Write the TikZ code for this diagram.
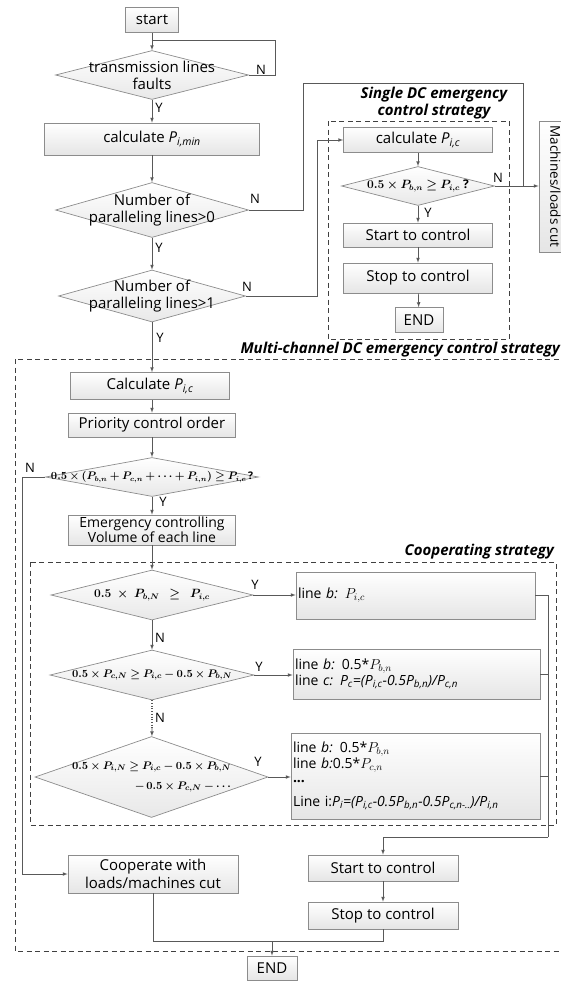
\documentclass[tikz,border=0pt]{standalone}
\usepackage[no-math]{fontspec}
\setmainfont{Open Sans}
\usepackage{bm}
\usetikzlibrary{shapes.geometric}

\newcommand{\Psub}[2]{\textit{#1}\textsubscript{\textit{#2}}}

\begin{document}
\begin{tikzpicture}[>=latex, x=1pt, y=-1pt,
    lnk/.style={draw=black!65, line width=0.7pt},
    frame/.style={draw=black!75, line width=0.7pt, dash pattern=on 5pt off 3.5pt},
    box/.style={draw=black!45, line width=0.7pt, top color=white, bottom color=black!10,
        inner sep=1pt, align=center, font=\fontsize{15}{18}\selectfont},
    lbox/.style={box, align=left, inner sep=1.5pt, font=\fontsize{14}{16}\selectfont},
    dec/.style={diamond, draw=black!45, line width=0.7pt, top color=white, bottom color=black!9, inner sep=0pt},
    dtxt/.style={align=center, font=\fontsize{15}{17}\selectfont},
    yn/.style={font=\fontsize{13}{15}\selectfont, inner sep=0pt},
    ttl/.style={font=\fontsize{15}{17}\selectfont\bfseries\itshape, align=center, inner sep=0pt}]

    \useasboundingbox (0,0) rectangle (561,982);
    \clip (0,0) rectangle (561,982);

    % main column
    \node[box, minimum width=53, minimum height=25] (start) at (152,20) {start};
    \node[dec, minimum width=193, minimum height=49,
        label={[dtxt]center:{transmission lines\\faults}}] (fault) at (152,75) {};
    \node[box, minimum width=215, minimum height=32] (calcmin) at (152,139) {calculate \Psub{P}{i,min}};
    \node[dec, minimum width=193, minimum height=55,
        label={[dtxt]center:{Number of\\paralleling lines>0}}] (par0) at (152,210) {};
    \node[dec, minimum width=187, minimum height=52,
        label={[dtxt]center:{Number of\\paralleling lines>1}}] (par1) at (152,296) {};

    \coordinate (loop) at (152,40);
    \draw[lnk, ->] (start) -- (fault);
    \draw[lnk] (fault.east) -- (275,75) |- (loop);
    \draw[lnk, ->] (fault) -- (calcmin);
    \draw[lnk, ->] (calcmin) -- (par0);
    \draw[lnk, ->] (par0) -- (par1);

    \node[yn] (nfault) at (261,70) {N};
    \node[yn] (yfault) at (159,108) {Y};
    \node[yn] (npar0) at (255,199) {N};
    \node[yn] (ypar0) at (159,248) {Y};
    \node[yn] (npar1) at (247,287) {N};
    \node[yn] (ypar1) at (160,338) {Y};

    % single DC strategy
    \draw[frame] (328,121) rectangle (509,339);
    \node[ttl] (stitle) at (434,103) {Single DC emergency\\control strategy};
    \node[box, minimum width=149, minimum height=25] (scalc) at (418,140) {calculate \Psub{P}{i,c}};
    \node[dec, minimum width=153, minimum height=39,
        label={[font=\fontsize{12}{14}\selectfont]center:{$\bm{0.5\times P_{b,n}\geq P_{i,c}}$ \textbf{?}}}] (sdec) at (418,186) {};
    \node[box, minimum width=149, minimum height=24] (sstart) at (418,235) {Start to control};
    \node[box, minimum width=149, minimum height=30] (sstop) at (418,278) {Stop to control};
    \node[box, minimum width=48, minimum height=25] (send) at (419,320) {END};
    \node[box, rotate=-90, minimum width=131, minimum height=33, font=\fontsize{13.5}{16}\selectfont] (cut) at (555.5,186.5) {Machines/loads cut};

    \coordinate (joint) at (523,186);
    \draw[lnk, ->] (scalc) -- (sdec);
    \draw[lnk, ->] (sdec) -- (sstart);
    \draw[lnk, ->] (sstart) -- (sstop);
    \draw[lnk, ->] (sstop) -- (send);
    \draw[lnk, ->] (sdec.east) -- (sdec.east -| cut.south);
    \draw[lnk] (par0.east) -- (303,210) |- (523,83) -- (joint);
    \draw[lnk, ->] (par1.east) -- (317,296) |- (scalc.west);
    \node[yn] (nsdec) at (498,178) {N};
    \node[yn] (ysdec) at (428,213) {Y};

    % multi-channel strategy
    \draw[frame] (15,359) rectangle (566,951);
    \node[ttl, anchor=east] (mtitle) at (560,350) {Multi-channel DC emergency control strategy};
    \node[box, minimum width=159, minimum height=27] (mcalc) at (150,386) {Calculate \Psub{P}{i,c}};
    \node[box, minimum width=167, minimum height=24] (prio) at (152,425) {Priority control order};
    \node[dec, minimum width=213, minimum height=39,
        label={[font=\fontsize{10.5}{12}\selectfont]center:{$\bm{0.5\times(P_{b,n}+P_{c,n}+\cdots+P_{i,n})\geq P_{i,c}}$\,\textbf{?}}}] (mdec) at (152,477) {};
    \node[box, minimum width=167, minimum height=30, font=\fontsize{14}{15}\selectfont] (volume) at (152,530) {Emergency controlling\\Volume of each line};

    \draw[lnk, ->] (par1) -- (mcalc.north -| par1);
    \draw[lnk, ->] (mcalc.south -| prio) -- (prio);
    \draw[lnk, ->] (prio) -- (mdec);
    \draw[lnk, ->] (mdec) -- (volume);
    \node[yn] (nmdec) at (30,468) {N};
    \node[yn] (ymdec) at (163,502) {Y};

    % cooperating strategy
    \draw[frame] (30,562) rectangle (556,825);
    \node[ttl, anchor=east] (ctitle) at (554,552) {Cooperating strategy};
    \node[dec, minimum width=202, minimum height=50,
        label={[font=\fontsize{12}{14}\selectfont]center:{$\bm{0.5\;\times\; P_{b,N}\;\;\geq\;\; P_{i,c}}$}}] (decA) at (152,595) {};
    \node[dec, minimum width=204, minimum height=50,
        label={[font=\fontsize{11}{13}\selectfont]center:{$\bm{0.5\times P_{c,N}\geq P_{i,c}-0.5\times P_{b,N}}$}}] (decB) at (152,675) {};
    \node[dec, minimum width=233, minimum height=81,
        label={[font=\fontsize{11}{20}\selectfont, align=right]center:{$\bm{0.5\times P_{i,N}\geq P_{i,c}-0.5\times P_{b,N}}$\\$\bm{-\,0.5\times P_{c,N}-\cdots}$}}] (decC) at (151.5,777) {};

    \node[lbox, minimum width=239, minimum height=47, text width=235] (resA) at (415.5,595.5)
        {line \textit{b:} $P_{i,c}$};
    \node[lbox, minimum width=247, minimum height=50, text width=243] (resB) at (416.5,674)
        {line \textit{b:}\enspace 0.5*$P_{b,n}$\\
         line \textit{c: \Psub{P}{c}=(\Psub{P}{i,c}-0.5\Psub{P}{b,n})/\Psub{P}{c,n}}};
    \node[lbox, minimum width=249, minimum height=86, text width=245, font=\fontsize{14}{14.5}\selectfont] (resC) at (415.5,776)
        {line \textit{b:}\enspace 0.5*$P_{b,n}$\\
         line \textit{b:}0.5*$P_{c,n}$\\
         \textbf{...}\\[9pt]
         Line i:\textit{\Psub{P}{i}=(\Psub{P}{i,c}-0.5\Psub{P}{b,n}-0.5\Psub{P}{c,n-..})/\Psub{P}{i,n}}};

    \coordinate (gap) at (152,728);
    \coordinate (bus) at (548,837);
    \draw[lnk, ->] (volume) -- (decA);
    \draw[lnk, ->] (decA) -- (decB);
    \draw[lnk, dotted, line width=1.6pt] (decB.south) -- (gap);
    \draw[lnk, ->] (gap) -- (decC);
    \draw[lnk, ->] (decA.east) -- (decA.east -| resA.west);
    \draw[lnk, ->] (decB.east) -- (decB.east -| resB.west);
    \draw[lnk, ->] (decC.east) -- (decC.east -| resC.west);
    \draw[lnk] (resA.east) -| (bus);
    \draw[lnk] (resB.east) -- (resB.east -| bus);
    \draw[lnk] (resC.east) -- (resC.east -| bus);
    \node[yn] (ydecA) at (255,585) {Y};
    \node[yn] (ndecA) at (160,638) {N};
    \node[yn] (ydecB) at (259,667) {Y};
    \node[yn] (ndecB) at (160,718) {N};
    \node[yn] (ydecC) at (258,762) {Y};

    % end of the flow
    \node[box, minimum width=170, minimum height=38] (coop) at (153,874) {Cooperate with\\loads/machines cut};
    \node[box, minimum width=150, minimum height=26] (mstart) at (383,868) {Start to control};
    \node[box, minimum width=150, minimum height=27] (mstop) at (383,915.5) {Stop to control};
    \node[box, minimum width=50, minimum height=24] (mend) at (272,968) {END};

    \coordinate (merge) at (272,941);
    \draw[lnk, ->] (bus) -| (mstart.north);
    \draw[lnk, ->] (mstart) -- (mstop);
    \draw[lnk, ->] (mdec.west) -- (22,477) |- (coop.west);
    \draw[lnk] (coop.south) |- (merge) -| (mstop.south);
    \draw[lnk, ->] (merge) -- (mend);
\end{tikzpicture}
\end{document}
